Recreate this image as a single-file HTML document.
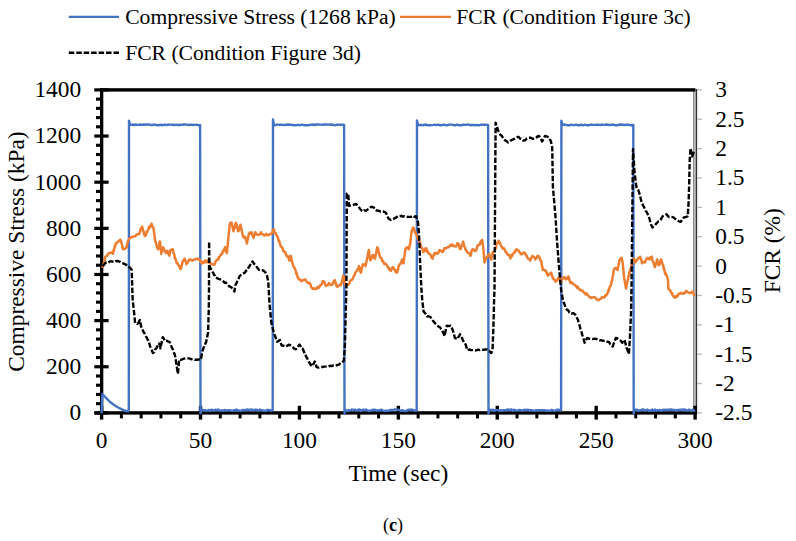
<!DOCTYPE html><html><head><meta charset="utf-8"><title>chart</title><style>html,body{margin:0;padding:0;background:#fff}svg{display:block}text{font-family:"Liberation Serif","DejaVu Serif",serif;fill:#000}</style></head><body>
<svg width="796" height="541" viewBox="0 0 796 541">
<rect width="796" height="541" fill="#fff"/>
<rect x="693.0" y="89" width="1.6" height="324" fill="#8e8e8e"/>
<rect x="694.5" y="89" width="1.4" height="324" fill="#b8b8b8"/>
<rect x="695.8" y="89" width="1.35" height="324" fill="#333"/>
<rect x="697" y="89.20" width="4.9" height="1.4" fill="#bcbcbc"/>
<rect x="697" y="118.56" width="4.9" height="1.4" fill="#bcbcbc"/>
<rect x="697" y="147.93" width="4.9" height="1.4" fill="#bcbcbc"/>
<rect x="697" y="177.29" width="4.9" height="1.4" fill="#bcbcbc"/>
<rect x="697" y="206.65" width="4.9" height="1.4" fill="#bcbcbc"/>
<rect x="697" y="236.02" width="4.9" height="1.4" fill="#bcbcbc"/>
<rect x="697" y="265.38" width="4.9" height="1.4" fill="#bcbcbc"/>
<rect x="697" y="294.75" width="4.9" height="1.4" fill="#bcbcbc"/>
<rect x="697" y="324.11" width="4.9" height="1.4" fill="#bcbcbc"/>
<rect x="697" y="353.47" width="4.9" height="1.4" fill="#bcbcbc"/>
<rect x="697" y="382.84" width="4.9" height="1.4" fill="#bcbcbc"/>
<rect x="697" y="412.20" width="4.9" height="1.4" fill="#bcbcbc"/>
<rect x="100" y="88.2" width="595.4" height="3.4" fill="#000"/>
<rect x="100" y="88.2" width="3.3" height="326.4" fill="#000"/>
<rect x="94.5" y="411.2" width="602.3" height="3.4" fill="#000"/>
<rect x="94.3" y="88.30" width="14.3" height="3.2" fill="#000"/>
<rect x="94.3" y="134.44" width="14.3" height="3.2" fill="#000"/>
<rect x="94.3" y="180.59" width="14.3" height="3.2" fill="#000"/>
<rect x="94.3" y="226.73" width="14.3" height="3.2" fill="#000"/>
<rect x="94.3" y="272.87" width="14.3" height="3.2" fill="#000"/>
<rect x="94.3" y="319.01" width="14.3" height="3.2" fill="#000"/>
<rect x="94.3" y="365.16" width="14.3" height="3.2" fill="#000"/>
<rect x="94.3" y="411.30" width="14.3" height="3.2" fill="#000"/>
<rect x="96" y="97.58" width="4.5" height="3.1" fill="#000"/>
<rect x="96" y="106.81" width="4.5" height="3.1" fill="#000"/>
<rect x="96" y="116.04" width="4.5" height="3.1" fill="#000"/>
<rect x="96" y="125.26" width="4.5" height="3.1" fill="#000"/>
<rect x="96" y="143.72" width="4.5" height="3.1" fill="#000"/>
<rect x="96" y="152.95" width="4.5" height="3.1" fill="#000"/>
<rect x="96" y="162.18" width="4.5" height="3.1" fill="#000"/>
<rect x="96" y="171.41" width="4.5" height="3.1" fill="#000"/>
<rect x="96" y="189.86" width="4.5" height="3.1" fill="#000"/>
<rect x="96" y="199.09" width="4.5" height="3.1" fill="#000"/>
<rect x="96" y="208.32" width="4.5" height="3.1" fill="#000"/>
<rect x="96" y="217.55" width="4.5" height="3.1" fill="#000"/>
<rect x="96" y="236.01" width="4.5" height="3.1" fill="#000"/>
<rect x="96" y="245.24" width="4.5" height="3.1" fill="#000"/>
<rect x="96" y="254.46" width="4.5" height="3.1" fill="#000"/>
<rect x="96" y="263.69" width="4.5" height="3.1" fill="#000"/>
<rect x="96" y="282.15" width="4.5" height="3.1" fill="#000"/>
<rect x="96" y="291.38" width="4.5" height="3.1" fill="#000"/>
<rect x="96" y="300.61" width="4.5" height="3.1" fill="#000"/>
<rect x="96" y="309.84" width="4.5" height="3.1" fill="#000"/>
<rect x="96" y="328.29" width="4.5" height="3.1" fill="#000"/>
<rect x="96" y="337.52" width="4.5" height="3.1" fill="#000"/>
<rect x="96" y="346.75" width="4.5" height="3.1" fill="#000"/>
<rect x="96" y="355.98" width="4.5" height="3.1" fill="#000"/>
<rect x="96" y="374.44" width="4.5" height="3.1" fill="#000"/>
<rect x="96" y="383.66" width="4.5" height="3.1" fill="#000"/>
<rect x="96" y="392.89" width="4.5" height="3.1" fill="#000"/>
<rect x="96" y="402.12" width="4.5" height="3.1" fill="#000"/>
<rect x="99.90" y="405.8" width="3.4" height="13.8" fill="#000"/>
<rect x="198.82" y="405.8" width="3.4" height="13.8" fill="#000"/>
<rect x="297.73" y="405.8" width="3.4" height="13.8" fill="#000"/>
<rect x="396.65" y="405.8" width="3.4" height="13.8" fill="#000"/>
<rect x="495.57" y="405.8" width="3.4" height="13.8" fill="#000"/>
<rect x="594.48" y="405.8" width="3.4" height="13.8" fill="#000"/>
<rect x="693.40" y="405.8" width="3.4" height="13.8" fill="#000"/>
<rect x="119.88" y="413" width="3.0" height="5.4" fill="#000"/>
<rect x="139.67" y="413" width="3.0" height="5.4" fill="#000"/>
<rect x="159.45" y="413" width="3.0" height="5.4" fill="#000"/>
<rect x="179.23" y="413" width="3.0" height="5.4" fill="#000"/>
<rect x="218.80" y="413" width="3.0" height="5.4" fill="#000"/>
<rect x="238.58" y="413" width="3.0" height="5.4" fill="#000"/>
<rect x="258.37" y="413" width="3.0" height="5.4" fill="#000"/>
<rect x="278.15" y="413" width="3.0" height="5.4" fill="#000"/>
<rect x="317.72" y="413" width="3.0" height="5.4" fill="#000"/>
<rect x="337.50" y="413" width="3.0" height="5.4" fill="#000"/>
<rect x="357.28" y="413" width="3.0" height="5.4" fill="#000"/>
<rect x="377.07" y="413" width="3.0" height="5.4" fill="#000"/>
<rect x="416.63" y="413" width="3.0" height="5.4" fill="#000"/>
<rect x="436.42" y="413" width="3.0" height="5.4" fill="#000"/>
<rect x="456.20" y="413" width="3.0" height="5.4" fill="#000"/>
<rect x="475.98" y="413" width="3.0" height="5.4" fill="#000"/>
<rect x="515.55" y="413" width="3.0" height="5.4" fill="#000"/>
<rect x="535.33" y="413" width="3.0" height="5.4" fill="#000"/>
<rect x="555.12" y="413" width="3.0" height="5.4" fill="#000"/>
<rect x="574.90" y="413" width="3.0" height="5.4" fill="#000"/>
<rect x="614.47" y="413" width="3.0" height="5.4" fill="#000"/>
<rect x="634.25" y="413" width="3.0" height="5.4" fill="#000"/>
<rect x="654.03" y="413" width="3.0" height="5.4" fill="#000"/>
<rect x="673.82" y="413" width="3.0" height="5.4" fill="#000"/>
<text x="81.2" y="97.30" font-size="23.4" text-anchor="end">1400</text>
<text x="81.2" y="143.44" font-size="23.4" text-anchor="end">1200</text>
<text x="81.2" y="189.59" font-size="23.4" text-anchor="end">1000</text>
<text x="81.2" y="235.73" font-size="23.4" text-anchor="end">800</text>
<text x="81.2" y="281.87" font-size="23.4" text-anchor="end">600</text>
<text x="81.2" y="328.01" font-size="23.4" text-anchor="end">400</text>
<text x="81.2" y="374.16" font-size="23.4" text-anchor="end">200</text>
<text x="81.2" y="420.30" font-size="23.4" text-anchor="end">0</text>
<text x="715.3" y="97.40" font-size="23.4">3</text>
<text x="715.3" y="126.76" font-size="23.4">2.5</text>
<text x="715.3" y="156.13" font-size="23.4">2</text>
<text x="715.3" y="185.49" font-size="23.4">1.5</text>
<text x="715.3" y="214.85" font-size="23.4">1</text>
<text x="715.3" y="244.22" font-size="23.4">0.5</text>
<text x="715.3" y="273.58" font-size="23.4">0</text>
<text x="715.3" y="302.95" font-size="23.4">-0.5</text>
<text x="715.3" y="332.31" font-size="23.4">-1</text>
<text x="715.3" y="361.67" font-size="23.4">-1.5</text>
<text x="715.3" y="391.04" font-size="23.4">-2</text>
<text x="715.3" y="420.40" font-size="23.4">-2.5</text>
<text x="101.60" y="448.4" font-size="23.4" text-anchor="middle">0</text>
<text x="200.52" y="448.4" font-size="23.4" text-anchor="middle">50</text>
<text x="299.43" y="448.4" font-size="23.4" text-anchor="middle">100</text>
<text x="398.35" y="448.4" font-size="23.4" text-anchor="middle">150</text>
<text x="497.27" y="448.4" font-size="23.4" text-anchor="middle">200</text>
<text x="596.18" y="448.4" font-size="23.4" text-anchor="middle">250</text>
<text x="695.10" y="448.4" font-size="23.4" text-anchor="middle">300</text>
<text x="398.3" y="480.7" font-size="23.4" text-anchor="middle">Time (sec)</text>
<text transform="translate(24.2,251.6) rotate(-90)" font-size="23.4" text-anchor="middle">Compressive Stress (kPa)</text>
<text transform="translate(780.2,250.8) rotate(-90)" font-size="23.4" text-anchor="middle">FCR (%)</text>
<text x="393" y="531" font-size="18" text-anchor="middle">(<tspan font-weight="bold">c</tspan>)</text>
<line x1="68.8" y1="16.8" x2="119" y2="16.8" stroke="#4472c4" stroke-width="2.3"/>
<text x="125.2" y="23.9" font-size="21.6">Compressive Stress (1268 kPa)</text>
<line x1="400" y1="16.8" x2="451" y2="16.8" stroke="#ed7d31" stroke-width="2.3"/>
<text x="456.2" y="23.9" font-size="21.6">FCR (Condition Figure 3c)</text>
<line x1="68.8" y1="52.8" x2="119" y2="52.8" stroke="#000" stroke-width="2.4" stroke-dasharray="5.5,1.95"/>
<text x="125.2" y="59.6" font-size="21.6">FCR (Condition Figure 3d)</text>
<path d="M101.6,413.3 L102.0,400.0 L102.5,394.0 L106.3,398.2 L110.1,402.0 L113.8,404.8 L117.6,407.2 L121.4,409.1 L125.1,410.8 L128.0,411.4 L128.8,409.5 L129.0,120.8 L129.9,124.6 L131.0,124.7 L132.6,124.6 L134.2,125.0 L135.8,124.5 L137.4,124.9 L139.0,124.8 L140.6,124.5 L142.2,124.9 L143.8,124.5 L145.4,124.8 L147.0,124.5 L148.6,124.5 L150.2,124.8 L151.8,125.2 L153.4,124.6 L155.0,124.7 L156.6,125.0 L158.2,125.3 L159.8,125.0 L161.4,124.8 L163.0,125.3 L164.6,124.5 L166.2,125.2 L167.8,124.7 L169.4,124.6 L171.0,124.6 L172.6,124.7 L174.2,125.2 L175.8,124.6 L177.4,125.0 L179.0,125.0 L180.6,124.8 L182.2,124.9 L183.8,124.5 L185.4,124.5 L187.0,124.6 L188.6,125.1 L190.2,124.8 L191.8,124.7 L193.4,125.0 L195.0,124.9 L196.6,124.7 L198.2,125.2 L199.8,125.1 L200.1,124.9 L200.5,413.4 L201.3,409.6 L202.5,409.8 L203.8,410.3 L205.1,410.2 L206.4,410.8 L207.7,410.6 L209.0,409.9 L210.3,411.0 L211.6,409.6 L212.9,410.1 L214.2,410.6 L215.5,409.6 L216.8,410.2 L218.1,409.5 L219.4,410.5 L220.7,410.6 L222.0,410.3 L223.3,410.8 L224.6,409.9 L225.9,410.5 L227.2,410.4 L228.5,410.3 L229.8,410.1 L231.1,410.7 L232.4,410.9 L233.7,410.2 L235.0,410.5 L236.3,409.5 L237.6,410.5 L238.9,410.4 L240.2,411.0 L241.5,410.7 L242.8,409.9 L244.1,410.0 L245.4,410.5 L246.7,409.4 L248.0,410.1 L249.3,409.7 L250.6,409.6 L251.9,409.5 L253.2,410.6 L254.5,409.6 L255.8,409.8 L257.1,410.0 L258.4,410.8 L259.7,409.5 L261.0,410.1 L262.3,410.3 L263.6,410.8 L264.9,410.7 L266.2,410.8 L267.5,409.8 L268.8,410.1 L270.1,410.0 L271.4,410.8 L272.7,410.2 L273.0,119.5 L273.9,124.6 L275.0,125.3 L276.6,124.6 L278.2,124.6 L279.8,124.7 L281.4,124.7 L283.0,124.9 L284.6,125.0 L286.2,124.7 L287.8,124.5 L289.4,124.8 L291.0,124.8 L292.6,125.0 L294.2,125.3 L295.8,125.1 L297.4,124.9 L299.0,125.0 L300.6,125.1 L302.2,124.5 L303.8,125.3 L305.4,125.2 L307.0,125.2 L308.6,125.2 L310.2,124.8 L311.8,124.8 L313.4,124.5 L315.0,125.0 L316.6,124.5 L318.2,124.5 L319.8,124.6 L321.4,124.6 L323.0,124.8 L324.6,124.5 L326.2,124.5 L327.8,124.6 L329.4,124.5 L331.0,124.8 L332.6,124.5 L334.2,125.2 L335.8,125.0 L337.4,124.6 L339.0,124.7 L340.6,124.8 L342.2,124.8 L343.8,124.6 L344.1,124.9 L344.5,413.4 L345.3,409.6 L346.5,410.8 L347.8,411.0 L349.1,410.1 L350.4,410.2 L351.7,409.5 L353.0,409.6 L354.3,409.9 L355.6,409.8 L356.9,410.7 L358.2,409.7 L359.5,409.4 L360.8,410.9 L362.1,410.2 L363.4,409.6 L364.7,410.3 L366.0,409.4 L367.3,410.2 L368.6,411.0 L369.9,410.8 L371.2,410.5 L372.5,409.8 L373.8,410.0 L375.1,409.7 L376.4,410.6 L377.7,410.3 L379.0,410.6 L380.3,409.9 L381.6,409.8 L382.9,410.7 L384.2,411.0 L385.5,410.8 L386.8,410.7 L388.1,410.7 L389.4,410.6 L390.7,409.8 L392.0,410.2 L393.3,410.0 L394.6,409.4 L395.9,409.4 L397.2,409.8 L398.5,409.8 L399.8,410.5 L401.1,410.9 L402.4,410.1 L403.7,410.9 L405.0,411.0 L406.3,410.9 L407.6,410.0 L408.9,409.8 L410.2,409.8 L411.5,409.7 L412.8,409.7 L414.1,410.4 L415.4,410.8 L416.7,410.2 L417.0,120.4 L417.9,124.6 L419.0,125.2 L420.6,124.9 L422.2,125.0 L423.8,125.2 L425.4,124.5 L427.0,125.0 L428.6,125.3 L430.2,125.2 L431.8,125.1 L433.4,124.9 L435.0,124.6 L436.6,125.2 L438.2,124.7 L439.8,125.2 L441.4,125.3 L443.0,124.8 L444.6,124.8 L446.2,125.3 L447.8,125.1 L449.4,124.6 L451.0,124.6 L452.6,124.6 L454.2,125.3 L455.8,125.2 L457.4,124.6 L459.0,125.2 L460.6,125.3 L462.2,125.0 L463.8,124.8 L465.4,124.9 L467.0,124.6 L468.6,124.5 L470.2,125.3 L471.8,125.0 L473.4,124.9 L475.0,125.3 L476.6,124.8 L478.2,125.2 L479.8,125.2 L481.4,124.6 L483.0,124.7 L484.6,124.7 L486.2,124.7 L487.8,125.0 L488.1,124.9 L488.5,413.4 L489.3,409.6 L490.5,409.8 L491.8,410.1 L493.1,409.6 L494.4,410.9 L495.7,410.0 L497.0,410.1 L498.3,410.3 L499.6,410.8 L500.9,410.1 L502.2,410.9 L503.5,410.2 L504.8,410.3 L506.1,410.2 L507.4,409.4 L508.7,410.1 L510.0,409.7 L511.3,409.4 L512.6,410.7 L513.9,409.7 L515.2,410.2 L516.5,410.6 L517.8,410.3 L519.1,409.9 L520.4,410.2 L521.7,410.3 L523.0,410.7 L524.3,409.6 L525.6,410.3 L526.9,409.8 L528.2,409.8 L529.5,410.6 L530.8,410.2 L532.1,410.3 L533.4,410.6 L534.7,410.9 L536.0,410.1 L537.3,410.4 L538.6,410.2 L539.9,410.2 L541.2,410.5 L542.5,410.1 L543.8,410.3 L545.1,410.2 L546.4,410.9 L547.7,410.5 L549.0,410.8 L550.3,410.9 L551.6,409.8 L552.9,410.3 L554.2,410.9 L555.5,410.7 L556.8,409.6 L558.1,409.6 L559.4,410.1 L560.7,409.5 L561.1,410.2 L561.4,120.8 L562.3,124.6 L563.4,124.7 L565.0,124.5 L566.6,125.1 L568.2,125.2 L569.8,125.3 L571.4,124.6 L573.0,125.1 L574.6,125.0 L576.2,124.6 L577.8,125.2 L579.4,125.3 L581.0,124.6 L582.6,125.3 L584.2,124.8 L585.8,124.9 L587.4,125.3 L589.0,125.2 L590.6,124.6 L592.2,124.8 L593.8,124.9 L595.4,124.8 L597.0,124.6 L598.6,124.7 L600.2,125.1 L601.8,124.5 L603.4,124.9 L605.0,124.8 L606.6,124.5 L608.2,124.7 L609.8,125.0 L611.4,124.9 L613.0,124.5 L614.6,125.3 L616.2,125.2 L617.8,125.3 L619.4,124.5 L621.0,124.7 L622.6,124.5 L624.2,125.2 L625.8,124.7 L627.4,124.6 L629.0,124.8 L630.6,125.3 L632.2,125.2 L633.3,124.9 L633.7,413.4 L634.5,409.6 L635.7,409.8 L637.0,409.6 L638.3,410.9 L639.6,410.3 L640.9,410.5 L642.2,409.5 L643.5,409.5 L644.8,410.5 L646.1,410.1 L647.4,409.5 L648.7,410.9 L650.0,410.4 L651.3,410.7 L652.6,409.5 L653.9,410.8 L655.2,409.5 L656.5,410.8 L657.8,410.1 L659.1,409.9 L660.4,410.3 L661.7,410.9 L663.0,409.8 L664.3,409.6 L665.6,410.2 L666.9,409.8 L668.2,409.6 L669.5,409.7 L670.8,409.5 L672.1,409.7 L673.4,409.9 L674.7,409.9 L676.0,410.6 L677.3,409.9 L678.6,410.2 L679.9,409.7 L681.2,410.0 L682.5,409.4 L683.8,409.8 L685.1,409.4 L686.4,410.6 L687.7,410.3 L689.0,409.7 L690.3,410.2 L691.6,410.9 L692.9,409.6 L694.2,410.7 L695.0,410.2" fill="none" stroke="#4472c4" stroke-width="2.4" stroke-linejoin="round"/>
<path d="M102.5,268.0 L102.8,266.7 L103.1,265.7 L103.4,265.4 L103.7,263.2 L104.0,262.4 L104.2,261.7 L104.5,261.2 L104.8,258.6 L105.1,258.6 L105.4,256.7 L106.3,256.3 L107.2,255.2 L108.2,253.7 L109.1,253.0 L110.4,252.9 L111.6,252.5 L112.9,253.9 L113.2,251.9 L113.5,250.6 L113.8,251.0 L114.1,248.7 L114.5,247.3 L114.8,246.0 L115.1,246.6 L115.4,245.5 L115.7,243.5 L116.7,243.3 L117.6,241.7 L118.6,241.6 L119.5,240.1 L120.4,239.8 L120.8,240.5 L121.1,242.1 L121.5,242.5 L121.8,244.4 L122.2,245.1 L122.6,248.0 L122.9,249.2 L123.3,249.2 L124.7,248.8 L126.1,248.2 L126.4,246.4 L126.8,247.0 L127.2,244.2 L127.5,243.2 L127.8,241.1 L128.2,240.9 L128.6,239.9 L128.9,238.8 L130.2,238.2 L131.4,236.8 L132.7,236.9 L134.1,236.5 L135.5,236.0 L136.8,234.2 L138.0,234.2 L139.3,234.1 L139.7,232.0 L140.1,231.7 L140.5,229.8 L140.9,228.7 L141.3,228.3 L141.7,227.0 L142.1,226.6 L142.4,228.0 L142.8,229.0 L143.2,230.7 L143.5,231.7 L143.8,233.0 L144.2,234.6 L144.6,234.6 L144.9,236.0 L145.5,234.4 L146.1,234.9 L146.6,231.7 L147.2,232.0 L147.8,230.3 L148.4,229.5 L149.0,227.0 L149.7,227.8 L150.3,226.8 L150.9,225.1 L151.5,223.7 L152.1,225.5 L152.8,227.0 L153.4,227.5 L155.3,241.6 L155.7,241.8 L156.1,243.8 L156.5,244.9 L156.9,246.7 L157.3,247.8 L157.7,248.9 L158.1,249.2 L158.4,248.3 L158.6,248.0 L158.9,246.4 L159.2,245.3 L159.5,243.1 L159.7,241.6 L160.0,241.6 L161.3,253.9 L161.6,251.9 L161.9,251.4 L162.2,249.7 L162.6,250.3 L162.9,248.5 L163.2,247.3 L163.7,248.7 L164.2,249.9 L164.7,251.2 L165.2,251.8 L165.7,253.0 L166.6,250.8 L167.5,251.0 L168.0,252.9 L168.4,254.0 L168.9,254.6 L169.4,255.8 L170.4,250.1 L171.5,249.7 L172.6,249.2 L172.9,250.8 L173.2,250.5 L173.5,253.3 L173.8,253.3 L174.2,254.1 L174.5,255.7 L174.8,258.0 L175.1,258.6 L175.7,259.0 L176.2,261.5 L176.8,263.2 L177.3,263.1 L177.9,264.3 L178.6,265.2 L179.3,266.6 L180.0,268.3 L180.7,269.0 L181.0,268.5 L181.3,266.9 L181.7,265.8 L182.0,264.3 L182.5,262.1 L183.0,261.2 L183.5,260.3 L184.0,260.3 L184.5,258.6 L184.9,259.3 L185.3,261.0 L185.6,260.8 L186.0,262.1 L186.4,264.3 L187.0,262.8 L187.5,262.8 L188.1,261.9 L188.6,260.9 L189.2,259.5 L190.6,259.5 L192.0,260.5 L193.4,260.0 L194.9,259.5 L196.3,259.0 L197.7,258.6 L198.6,259.5 L199.6,259.6 L200.5,261.4 L201.4,263.3 L202.4,263.3 L203.3,261.6 L204.3,262.6 L205.2,260.5 L206.2,262.2 L207.1,260.6 L208.1,262.4 L209.5,262.8 L210.9,263.3 L212.3,264.6 L213.7,264.3 L214.5,264.5 L215.2,262.3 L216.0,260.9 L216.7,259.8 L217.5,259.5 L218.2,259.6 L219.0,256.9 L219.7,256.9 L220.5,254.9 L221.2,254.8 L221.7,253.8 L222.3,253.7 L222.8,250.7 L223.4,251.3 L223.9,249.5 L224.5,249.3 L225.0,247.3 L225.4,248.9 L225.8,248.9 L226.1,251.7 L226.5,251.8 L226.9,253.0 L229.7,224.7 L230.6,222.6 L231.6,222.8 L233.5,231.3 L233.8,229.0 L234.1,229.2 L234.4,228.0 L234.8,226.6 L235.1,225.1 L235.4,224.6 L235.7,223.4 L236.0,222.8 L236.3,224.8 L236.6,224.0 L236.9,227.0 L237.3,228.5 L237.6,228.0 L237.9,231.1 L238.2,231.3 L238.6,230.7 L239.0,230.1 L239.3,227.5 L239.7,226.6 L240.1,225.5 L240.5,224.7 L242.9,236.0 L243.9,237.6 L245.0,236.9 L245.3,238.2 L245.6,238.8 L245.9,240.0 L246.3,240.8 L246.6,241.3 L246.9,243.5 L248.8,234.1 L249.7,232.5 L250.7,233.6 L251.6,232.2 L252.0,232.8 L252.4,235.5 L252.7,235.0 L253.1,236.2 L253.5,237.9 L253.9,236.8 L254.3,234.9 L254.6,234.2 L255.0,234.4 L255.4,232.2 L256.3,234.1 L257.3,234.8 L258.2,235.0 L259.1,234.4 L260.1,234.1 L261.0,232.2 L261.9,234.2 L262.9,234.2 L263.8,235.0 L265.1,235.5 L266.3,233.9 L267.6,235.0 L268.9,235.1 L270.1,234.0 L271.4,233.7 L271.9,233.2 L272.5,231.9 L273.1,230.0 L273.6,229.4 L274.1,229.6 L274.6,233.0 L275.1,233.2 L275.7,233.2 L276.3,235.0 L276.8,235.6 L277.4,236.5 L278.0,237.9 L278.4,239.5 L278.7,241.2 L279.1,240.5 L279.4,242.5 L279.8,242.7 L280.1,244.4 L280.4,245.1 L280.8,246.4 L281.4,246.5 L282.1,247.5 L282.7,248.5 L283.3,251.1 L284.0,251.1 L284.6,252.0 L285.3,252.3 L286.0,254.9 L286.7,256.0 L287.4,255.8 L287.9,256.9 L288.4,257.3 L288.8,258.6 L289.3,260.5 L289.6,258.3 L290.0,257.8 L290.3,256.0 L290.6,255.8 L290.9,256.3 L291.2,257.6 L291.5,259.5 L291.8,261.4 L292.1,262.3 L292.4,262.6 L292.7,263.8 L293.0,265.2 L293.5,266.4 L294.0,267.1 L294.4,268.1 L294.9,268.5 L295.4,270.2 L295.9,271.8 L296.3,274.0 L296.7,273.0 L297.1,275.0 L297.5,276.4 L297.9,278.0 L298.3,277.5 L298.7,279.3 L299.6,279.4 L300.6,280.0 L301.5,281.2 L302.8,280.3 L304.0,279.8 L305.3,279.3 L306.2,281.3 L307.2,282.0 L308.2,283.0 L309.1,283.1 L309.8,283.1 L310.5,284.3 L311.2,287.1 L311.9,287.8 L313.1,289.0 L314.2,288.3 L315.4,288.9 L316.6,289.0 L317.4,287.0 L318.1,287.1 L318.9,287.6 L319.6,286.6 L320.4,285.0 L321.1,284.9 L321.8,284.2 L322.5,281.5 L323.2,281.2 L323.9,281.4 L324.6,282.7 L325.3,284.8 L326.0,285.9 L327.0,285.4 L327.9,285.1 L328.9,283.1 L329.8,284.3 L330.8,284.7 L331.7,285.0 L332.4,284.5 L333.1,282.5 L333.8,281.6 L334.5,280.3 L335.0,280.3 L335.4,283.2 L335.9,283.0 L336.4,285.7 L336.8,286.1 L337.3,286.9 L338.6,285.8 L339.8,284.7 L341.1,285.0 L343.4,275.6 L345.2,285.0 L346.4,284.4 L347.7,285.0 L348.5,284.4 L349.3,283.6 L350.0,281.2 L350.8,280.2 L351.6,280.3 L352.4,279.3 L352.9,278.4 L353.5,276.9 L354.0,275.4 L354.6,275.3 L355.1,272.8 L355.7,272.4 L356.2,271.8 L356.8,270.6 L357.3,270.6 L357.9,268.7 L358.4,268.2 L359.0,266.1 L359.3,267.1 L359.6,267.7 L359.9,268.8 L360.3,271.6 L360.6,272.1 L360.9,272.7 L362.8,264.3 L363.7,264.4 L364.7,264.4 L365.6,266.1 L368.8,250.1 L370.3,260.5 L370.9,259.4 L371.4,258.6 L372.0,256.9 L372.5,255.4 L373.1,254.8 L373.7,256.5 L374.4,258.4 L375.0,258.6 L377.3,247.3 L377.6,247.7 L377.9,248.3 L378.2,250.1 L378.5,251.4 L378.8,253.1 L379.1,253.0 L379.4,255.5 L379.7,255.8 L380.3,257.5 L381.0,258.0 L381.6,258.4 L382.2,261.3 L382.9,260.8 L383.5,262.4 L384.4,264.1 L385.4,263.6 L386.4,264.5 L387.3,266.1 L388.0,267.7 L388.8,267.5 L389.5,270.1 L390.3,269.9 L391.0,270.9 L391.6,268.9 L392.3,267.7 L392.9,267.1 L393.6,267.8 L394.3,269.4 L395.0,269.9 L395.6,271.9 L396.3,270.9 L396.9,272.7 L397.2,271.4 L397.6,269.9 L397.9,270.7 L398.3,267.6 L398.6,266.4 L399.0,265.3 L399.3,265.1 L399.7,264.3 L400.3,264.1 L400.9,262.8 L401.6,261.3 L402.2,259.5 L402.6,262.0 L403.1,263.1 L403.5,263.3 L405.4,249.2 L406.3,247.8 L407.2,247.3 L407.9,247.5 L408.6,249.2 L409.0,249.1 L409.4,247.4 L409.7,244.6 L410.1,244.5 L411.6,231.3 L412.2,230.4 L412.7,228.5 L413.3,227.5 L413.7,228.4 L414.1,229.4 L414.4,230.2 L414.8,232.2 L415.4,232.2 L416.0,234.0 L416.6,235.4 L417.2,236.9 L417.8,239.2 L418.4,238.3 L418.9,241.5 L419.5,241.6 L420.0,242.1 L420.4,243.7 L420.9,246.0 L421.4,246.4 L421.8,248.3 L422.2,248.5 L422.5,248.7 L422.9,250.8 L423.3,252.0 L424.0,250.7 L424.7,251.1 L425.4,248.4 L426.1,248.2 L426.6,249.1 L427.1,251.6 L427.5,250.7 L428.0,253.0 L429.9,253.9 L430.6,254.9 L431.3,257.0 L432.0,258.1 L432.7,258.6 L433.1,256.4 L433.5,255.2 L433.8,254.2 L434.2,255.1 L434.6,253.0 L436.0,252.9 L437.4,253.9 L438.0,253.2 L438.7,252.3 L439.3,250.1 L440.2,250.3 L441.2,250.8 L442.1,252.0 L442.8,252.1 L443.5,250.4 L444.2,248.6 L444.9,248.2 L446.2,248.4 L447.4,247.2 L448.7,247.3 L449.6,246.1 L450.6,244.7 L451.6,245.8 L452.5,244.5 L453.4,246.1 L454.4,246.1 L455.3,246.4 L456.2,246.5 L457.2,243.3 L458.1,243.5 L458.6,244.0 L459.1,245.7 L459.6,248.0 L460.1,249.1 L460.6,249.2 L461.0,247.8 L461.3,246.4 L461.7,245.8 L462.1,244.8 L462.5,244.8 L462.8,241.9 L463.2,241.6 L463.5,243.4 L463.8,244.3 L464.1,245.6 L464.4,246.5 L464.8,247.2 L465.1,247.6 L465.4,248.6 L465.7,250.1 L466.6,250.7 L467.6,252.7 L468.5,253.0 L469.1,252.9 L469.8,254.1 L470.4,255.8 L470.8,255.3 L471.1,253.0 L471.5,251.5 L471.9,250.3 L472.2,250.4 L472.6,249.2 L473.9,249.7 L475.1,251.1 L475.7,251.1 L476.2,249.7 L476.8,248.9 L477.3,246.0 L477.9,245.4 L479.8,244.5 L480.4,242.3 L481.0,241.2 L481.5,241.0 L482.1,239.8 L483.2,247.3 L484.5,262.4 L485.0,261.7 L485.4,259.9 L485.9,258.2 L486.4,257.7 L487.1,256.6 L487.8,256.1 L488.5,255.3 L489.2,253.9 L489.6,255.6 L490.0,257.0 L490.3,257.7 L490.7,257.5 L491.1,259.5 L491.4,259.2 L491.6,256.9 L491.9,256.4 L492.2,254.9 L492.5,254.7 L492.7,252.3 L493.0,252.0 L494.9,251.1 L495.2,249.4 L495.4,248.3 L495.7,247.0 L496.0,247.7 L496.3,245.9 L496.5,244.2 L496.8,243.5 L497.4,242.3 L498.0,242.8 L498.6,240.7 L499.2,242.0 L499.9,242.6 L500.5,244.5 L501.2,246.2 L501.9,246.7 L502.6,248.5 L503.3,248.2 L504.0,248.2 L504.8,250.0 L505.5,251.8 L506.2,252.0 L507.1,253.8 L508.1,254.9 L509.0,254.8 L509.4,255.0 L509.9,256.8 L510.3,258.6 L510.9,256.5 L511.5,255.5 L512.2,256.2 L512.8,253.9 L513.5,253.2 L514.3,253.1 L515.0,250.8 L515.8,251.0 L516.5,249.2 L517.5,250.0 L518.4,250.5 L519.4,252.0 L520.3,253.3 L521.3,254.3 L522.2,253.9 L523.6,252.5 L525.0,253.0 L525.6,254.4 L526.1,255.5 L526.7,255.7 L527.2,257.2 L527.8,258.6 L529.0,258.7 L530.3,260.5 L530.9,258.6 L531.5,257.6 L532.0,257.2 L532.6,255.8 L533.3,257.1 L534.0,256.9 L534.7,257.4 L535.4,259.5 L536.1,258.2 L536.8,258.1 L537.5,256.0 L538.2,255.8 L538.9,256.5 L539.6,257.4 L540.3,260.0 L541.0,260.5 L542.9,269.9 L545.0,269.9 L545.6,271.2 L546.1,271.1 L546.7,272.4 L547.2,274.2 L547.8,275.6 L548.8,274.8 L549.7,274.0 L550.7,272.7 L551.2,272.8 L551.6,274.1 L552.1,276.5 L552.6,276.9 L553.0,277.7 L553.5,279.3 L554.4,279.5 L555.4,281.7 L556.3,281.2 L557.0,279.8 L557.7,279.5 L558.4,278.0 L559.1,277.4 L559.6,278.4 L560.0,280.7 L560.5,282.2 L561.0,282.2 L561.5,280.7 L562.0,279.1 L562.4,279.1 L562.9,277.4 L563.8,277.3 L564.8,277.5 L565.7,279.3 L566.7,279.3 L567.6,277.3 L568.6,276.5 L568.9,278.4 L569.2,278.5 L569.5,280.7 L569.8,280.8 L570.1,281.2 L570.4,283.1 L571.8,282.4 L573.3,284.0 L574.2,284.8 L575.2,285.6 L576.1,285.9 L576.9,287.7 L577.6,286.5 L578.4,288.6 L579.1,288.8 L579.9,289.9 L580.8,290.5 L581.8,290.2 L582.7,291.1 L583.7,292.3 L584.6,292.8 L585.5,294.5 L586.5,293.3 L587.4,294.9 L588.3,295.6 L589.6,297.0 L590.8,298.0 L592.1,297.5 L593.4,297.1 L594.6,297.2 L595.9,298.4 L597.1,299.8 L598.4,300.2 L599.6,299.4 L600.9,298.7 L602.1,297.1 L603.4,297.5 L604.4,297.6 L605.3,295.3 L606.2,295.6 L607.2,293.7 L607.7,292.9 L608.1,292.2 L608.6,289.5 L609.1,289.9 L609.5,287.4 L610.0,286.9 L610.4,285.5 L610.8,285.5 L611.1,284.3 L611.5,281.6 L611.9,281.2 L613.8,269.9 L614.8,268.3 L615.7,268.0 L616.6,268.7 L617.5,269.9 L619.4,260.5 L620.0,259.6 L620.7,258.4 L621.3,257.7 L621.6,258.0 L622.0,259.4 L622.3,261.8 L622.6,262.4 L624.1,277.4 L626.0,288.5 L627.9,279.3 L628.2,279.2 L628.4,276.1 L628.7,276.2 L629.0,275.6 L629.3,272.8 L629.5,273.7 L629.8,271.8 L630.1,269.8 L630.4,269.8 L630.8,268.6 L631.1,267.7 L631.4,265.8 L631.7,265.2 L632.0,263.9 L632.3,263.2 L632.7,261.7 L633.0,261.2 L633.3,259.6 L633.6,258.6 L634.2,259.7 L634.8,260.0 L635.4,262.4 L636.0,261.7 L636.7,260.4 L637.3,259.5 L638.3,257.9 L639.2,258.3 L640.2,256.7 L640.5,258.5 L640.8,258.8 L641.1,259.2 L641.4,261.0 L641.7,261.3 L642.0,263.3 L643.5,262.0 L644.9,262.4 L645.6,261.1 L646.3,259.1 L647.0,258.7 L647.7,257.7 L648.7,258.6 L649.6,259.5 L650.2,257.5 L650.9,258.0 L651.5,256.7 L651.9,256.8 L652.2,259.5 L652.6,260.8 L652.9,261.3 L653.3,262.4 L653.6,262.5 L654.0,264.8 L654.4,265.6 L654.7,267.1 L655.0,267.1 L655.4,264.1 L655.7,264.7 L656.1,263.9 L656.4,262.2 L656.8,261.3 L657.1,259.5 L657.5,259.9 L657.9,262.9 L658.2,262.9 L658.6,265.2 L659.0,265.2 L659.4,265.1 L659.8,262.1 L660.1,262.5 L660.5,261.7 L660.9,259.5 L661.4,259.7 L661.8,261.5 L662.3,263.7 L662.8,264.3 L663.1,264.6 L663.3,267.4 L663.6,267.0 L663.9,269.3 L664.2,268.8 L664.4,270.7 L664.7,271.8 L665.3,274.1 L665.9,273.6 L666.5,275.6 L667.0,276.2 L667.4,277.9 L667.9,279.0 L668.4,289.0 L669.1,289.5 L669.8,289.8 L670.5,291.1 L671.2,292.8 L672.0,292.9 L672.7,295.7 L673.5,296.1 L674.2,297.5 L675.0,297.5 L675.9,296.1 L676.9,296.9 L677.8,295.6 L678.8,293.7 L679.7,293.8 L680.7,292.8 L682.1,293.6 L683.5,293.7 L684.4,292.4 L685.4,292.7 L686.3,290.9 L687.2,291.7 L688.2,292.4 L689.1,292.8 L690.5,293.2 L692.0,291.8 L693.0,291.8 L694.0,294.9 L695.0,294.7" fill="none" stroke="#ed7d31" stroke-width="2.5" stroke-linejoin="round"/>
<path d="M102.5,266.1 L103.8,265.0 L105.0,263.5 L106.3,262.4 L108.2,262.5 L110.1,261.4 L112.0,261.4 L113.9,262.0 L115.7,261.2 L117.6,261.0 L119.5,261.6 L121.4,262.9 L123.3,263.3 L124.7,264.2 L126.1,264.7 L127.5,266.5 L128.9,267.1 L130.3,267.9 L131.7,269.9 L132.3,289.0 L132.7,300.3 L134.0,311.6 L135.1,322.9 L137.4,323.9 L138.6,322.4 L139.8,320.1 L141.2,326.7 L141.9,327.9 L142.7,329.9 L143.4,331.9 L144.2,332.8 L144.9,334.2 L145.9,336.3 L146.8,337.7 L147.8,339.9 L148.4,340.7 L148.9,342.2 L149.5,343.9 L150.0,346.1 L150.6,347.4 L151.4,349.2 L152.2,351.2 L153.0,353.1 L154.1,352.1 L155.1,349.5 L156.2,348.4 L157.2,346.4 L158.1,345.4 L159.1,343.6 L159.5,344.5 L160.0,346.1 L160.4,348.4 L162.8,337.1 L163.8,338.7 L164.7,340.8 L166.3,340.6 L167.8,341.3 L169.4,341.8 L170.1,343.1 L170.9,345.2 L171.6,346.9 L172.3,348.4 L172.9,349.5 L173.4,351.6 L174.0,352.9 L174.5,353.9 L175.1,355.9 L176.4,364.4 L177.9,373.8 L179.2,359.7 L181.4,359.8 L183.6,358.7 L185.5,358.4 L187.4,358.4 L189.2,358.4 L191.1,359.2 L193.0,359.1 L195.0,359.8 L196.9,359.8 L198.9,359.4 L200.9,359.7 L202.4,351.2 L203.0,349.3 L203.7,347.4 L204.3,346.7 L204.9,345.0 L205.6,343.2 L206.2,341.8 L208.1,332.3 L208.8,307.8 L209.0,289.0 L209.1,241.6 L209.4,266.0 L210.2,267.6 L210.9,268.8 L211.7,270.9 L212.5,272.0 L213.3,272.8 L214.1,275.1 L214.8,275.3 L215.6,277.4 L217.1,278.2 L218.6,278.8 L220.1,279.3 L221.6,279.8 L223.1,281.2 L224.6,282.7 L226.1,282.8 L227.7,284.7 L229.2,286.4 L230.7,286.9 L231.9,287.9 L233.2,289.5 L234.4,291.5 L235.4,285.0 L236.2,283.6 L237.0,281.9 L237.8,280.5 L238.5,279.2 L239.3,276.7 L240.1,275.6 L241.7,274.4 L243.4,273.4 L245.0,272.7 L245.9,270.7 L246.9,270.4 L247.9,268.9 L248.8,267.1 L249.7,266.0 L250.7,263.6 L251.6,263.3 L252.5,261.4 L253.9,263.6 L255.4,265.2 L256.6,266.7 L257.9,268.7 L259.1,269.9 L260.7,270.2 L262.2,270.2 L263.8,270.9 L265.2,272.2 L266.7,274.6 L268.2,281.2 L268.7,289.0 L269.5,304.1 L271.4,322.9 L274.2,334.2 L274.8,335.3 L275.3,336.6 L275.9,338.5 L276.4,340.6 L277.0,341.8 L278.4,341.1 L279.9,339.9 L280.5,342.3 L281.1,343.9 L281.7,345.5 L283.6,345.7 L285.5,346.5 L287.4,345.6 L289.3,344.6 L291.1,345.9 L293.0,347.4 L294.4,348.8 L295.9,349.3 L297.1,347.8 L298.4,345.8 L299.6,344.6 L300.6,346.2 L301.5,348.1 L302.4,348.4 L303.4,350.2 L304.1,352.4 L304.8,352.8 L305.5,354.8 L306.2,356.8 L307.1,358.1 L308.1,360.4 L309.1,362.4 L310.0,363.4 L310.9,365.2 L311.9,366.3 L312.8,364.5 L313.8,363.6 L314.7,361.5 L315.3,363.2 L316.0,364.9 L316.6,367.2 L318.5,367.6 L320.4,367.1 L322.2,367.0 L324.1,366.6 L326.0,366.6 L327.9,366.8 L329.8,365.8 L331.7,366.0 L333.6,365.3 L335.5,365.3 L337.3,365.2 L339.2,364.4 L340.8,363.0 L342.3,362.2 L343.9,360.6 L344.9,345.5 L345.6,317.3 L346.4,289.0 L346.8,193.6 L348.3,194.5 L349.0,205.8 L351.1,205.4 L353.3,204.9 L356.2,204.0 L357.4,205.3 L358.7,206.7 L359.9,208.7 L361.4,210.3 L362.8,211.5 L364.4,210.3 L365.9,210.8 L367.5,209.6 L369.1,208.2 L370.6,207.1 L372.2,206.8 L373.8,207.5 L375.3,209.9 L376.9,210.6 L378.8,210.8 L380.7,211.5 L383.0,211.4 L385.4,212.4 L386.3,213.6 L387.3,215.6 L388.2,218.1 L389.6,219.3 L391.0,220.0 L393.0,219.2 L395.0,218.1 L396.4,217.4 L397.8,216.2 L399.5,216.6 L401.2,215.8 L402.9,216.6 L404.6,216.3 L406.3,216.6 L407.9,217.0 L409.6,216.9 L411.2,216.9 L412.8,215.7 L414.5,216.8 L416.1,216.2 L416.7,218.7 L417.4,220.6 L418.0,221.9 L419.1,236.0 L420.1,262.4 L421.4,289.0 L422.3,300.3 L423.6,311.6 L424.7,312.6 L425.9,314.3 L427.0,316.3 L428.6,316.4 L430.1,316.9 L431.7,318.2 L432.6,320.1 L433.6,321.5 L434.6,322.7 L435.5,323.9 L437.1,325.6 L438.6,326.6 L440.2,327.6 L441.1,328.9 L442.1,330.2 L443.0,332.3 L443.7,333.6 L444.4,336.1 L446.8,325.7 L448.7,326.1 L450.6,325.7 L451.6,327.2 L452.5,329.5 L453.0,330.9 L453.5,332.8 L453.9,333.9 L454.4,336.0 L454.9,338.0 L457.6,338.9 L458.4,337.0 L459.2,336.1 L460.0,334.2 L460.9,335.9 L461.9,337.7 L462.8,339.9 L463.8,342.1 L464.7,343.0 L465.7,344.6 L466.3,347.0 L466.9,348.5 L467.5,350.2 L469.1,349.5 L470.8,350.1 L472.5,350.1 L474.1,350.2 L476.0,350.5 L477.9,349.7 L479.8,350.1 L481.7,349.7 L483.6,349.8 L485.4,349.3 L487.3,349.7 L488.6,351.3 L489.8,351.4 L491.1,353.1 L491.9,351.6 L492.6,349.3 L493.4,326.7 L494.1,300.3 L494.5,289.0 L495.6,122.7 L496.1,123.9 L496.6,125.3 L497.2,127.2 L497.7,129.3 L498.6,131.5 L499.6,133.7 L500.5,134.9 L501.8,135.8 L503.0,138.0 L504.3,139.6 L506.2,141.0 L508.1,142.5 L509.7,141.9 L511.2,140.1 L512.8,139.6 L514.7,138.7 L516.5,137.5 L518.4,136.8 L520.0,138.5 L521.5,139.0 L523.1,140.6 L525.0,140.3 L526.9,138.4 L528.8,137.8 L530.7,137.7 L532.5,138.7 L534.4,138.7 L536.0,137.8 L537.5,136.3 L539.1,135.9 L540.1,138.0 L541.0,139.0 L542.0,141.5 L543.0,140.0 L544.0,138.0 L545.0,135.9 L547.8,136.8 L549.2,139.1 L550.7,140.6 L552.2,147.2 L552.9,187.0 L555.4,215.3 L557.2,243.5 L559.1,268.0 L561.0,289.0 L562.9,300.3 L563.5,302.0 L564.0,303.1 L564.6,304.7 L565.1,306.2 L565.7,307.8 L567.0,309.9 L568.2,310.4 L569.5,312.6 L571.4,313.7 L573.2,313.1 L575.1,314.4 L576.1,315.9 L577.0,317.9 L578.0,320.1 L578.5,322.3 L579.0,323.4 L579.4,324.9 L579.9,326.7 L580.4,328.8 L580.8,329.5 L581.3,331.3 L581.8,333.0 L582.2,334.9 L582.7,336.1 L583.2,338.1 L583.7,339.6 L584.1,340.8 L584.6,342.7 L585.5,340.9 L586.5,339.1 L587.4,338.0 L589.0,338.7 L590.7,338.7 L592.4,339.0 L594.0,338.9 L595.9,338.8 L597.8,339.5 L599.6,340.3 L601.5,340.3 L603.4,340.9 L605.3,340.7 L607.2,341.6 L609.1,342.1 L610.3,344.1 L611.6,344.7 L612.8,346.5 L613.4,344.4 L614.0,342.8 L614.5,341.7 L615.1,340.2 L615.7,338.0 L617.5,338.5 L619.4,339.9 L620.8,340.8 L622.3,342.7 L623.4,340.9 L624.5,339.9 L625.0,341.5 L625.5,343.7 L625.9,345.1 L626.4,347.4 L627.0,348.8 L627.6,350.3 L628.3,353.0 L628.9,354.0 L630.0,336.1 L631.0,313.0 L631.5,289.0 L633.0,149.1 L634.5,172.0 L636.4,187.0 L637.3,189.2 L638.3,190.2 L639.2,192.7 L639.7,195.2 L640.2,195.9 L640.6,198.2 L641.1,200.2 L641.7,202.4 L642.4,203.7 L643.0,205.2 L643.6,206.4 L644.3,207.6 L644.9,209.6 L645.8,211.2 L646.6,211.9 L647.4,213.5 L648.3,215.3 L648.8,217.0 L649.4,218.4 L650.0,220.8 L650.5,222.8 L651.1,224.8 L651.8,226.2 L652.4,227.5 L653.6,226.3 L654.8,225.3 L655.9,223.9 L657.1,222.8 L658.5,221.3 L659.9,220.9 L660.9,219.5 L661.8,217.6 L662.8,216.2 L664.6,215.6 L666.5,214.3 L668.0,216.3 L669.4,217.1 L671.2,217.0 L673.1,217.1 L675.0,218.7 L676.9,220.0 L678.8,221.3 L680.7,221.9 L681.9,220.2 L683.2,218.3 L684.4,217.1 L686.1,217.0 L687.8,216.2 L688.6,202.1 L689.1,187.0 L689.7,160.4 L690.5,148.1 L692.0,156.6 L692.6,155.3 L693.3,153.3 L693.9,151.0" fill="none" stroke="#000" stroke-width="2.4" stroke-dasharray="5.5,1.95" stroke-linejoin="round"/>
</svg></body></html>
